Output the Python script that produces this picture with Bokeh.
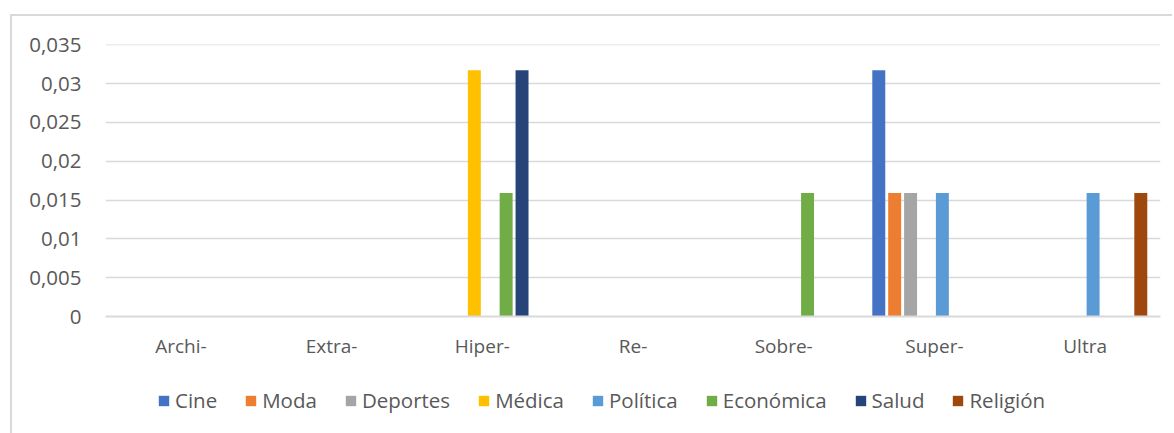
from bokeh.plotting import figure
from bokeh.layouts import column
from bokeh.models import (FactorRange, Range1d, FixedTicker, CustomJSTickFormatter,
                          Legend, LegendItem, ColumnDataSource)
from bokeh.transform import dodge
from bokeh.embed import file_html
from bokeh.resources import INLINE

categories = ["Archi-", "Extra-", "Hiper-", "Re-", "Sobre-", "Super-", "Ultra"]
series_names = ["Cine", "Moda", "Deportes", "Médica", "Política", "Económica", "Salud", "Religión"]
cine      = [0, 0, 0,      0, 0,      0.0317, 0]
moda      = [0, 0, 0,      0, 0,      0.0159, 0]
deportes  = [0, 0, 0,      0, 0,      0.0159, 0]
medica    = [0, 0, 0.0317, 0, 0,      0,      0]
politica  = [0, 0, 0,      0, 0,      0.0159, 0.0159]
economica = [0, 0, 0.0159, 0, 0.0159, 0,      0]
salud     = [0, 0, 0.0317, 0, 0,      0,      0]
religion  = [0, 0, 0,      0, 0,      0,      0.0159]
y_ticks = [0, 0.005, 0.01, 0.015, 0.02, 0.025, 0.03, 0.035]

series_values = [cine, moda, deportes, medica, politica, economica, salud, religion]
colors = ["#4472C4", "#ED7D31", "#A5A5A5", "#FFC000", "#5B9BD5", "#70AD47", "#264478", "#9E480E"]

FONT = "Open Sans"
TXT = "#595959"
GRID = "#d9d9d9"

data = {"cat": categories}
for name, vals in zip(series_names, series_values):
    data[name] = vals
src = ColumnDataSource(data)

# ---- main chart ----
p = figure(width=1160, height=357, output_backend="svg", toolbar_location=None,
           x_range=FactorRange(*categories, range_padding=0),
           y_range=Range1d(0, 0.03503),
           min_border_left=93, min_border_right=12, min_border_top=28, min_border_bottom=57)
p.outline_line_color = None
p.background_fill_color = "white"
p.border_fill_color = "white"

slot = 0.1055
for j, (name, col) in enumerate(zip(series_names, colors)):
    p.vbar(x=dodge("cat", (j - 3.5) * slot, range=p.x_range), top=name, width=0.086,
           source=src, fill_color=col, line_color=None)

p.xgrid.grid_line_color = None
p.ygrid.grid_line_color = GRID
p.ygrid.grid_line_width = 1.5
p.ygrid.ticker = FixedTicker(ticks=y_ticks)

p.yaxis.ticker = FixedTicker(ticks=y_ticks)
p.yaxis.formatter = CustomJSTickFormatter(
    code="return (Math.round(tick*1000)/1000).toString().replace('.', ',');")
p.yaxis.axis_line_color = None
p.yaxis.major_tick_line_color = None
p.yaxis.minor_tick_line_color = None
p.yaxis.major_label_standoff = 18
p.yaxis.major_label_text_font = FONT
p.yaxis.major_label_text_font_size = "20.5px"
p.yaxis.major_label_text_color = TXT

p.xaxis.axis_line_color = GRID
p.xaxis.axis_line_width = 2
p.xaxis.major_tick_line_color = None
p.xaxis.minor_tick_line_color = None
p.xaxis.major_label_standoff = 10
p.xaxis.major_label_text_font = FONT
p.xaxis.major_label_text_font_size = "19px"
p.xaxis.major_label_text_color = TXT

# ---- legend strip ----
lg = figure(width=1160, height=60, output_backend="svg", toolbar_location=None,
            x_range=FactorRange(*categories), y_range=Range1d(10, 11),
            x_axis_location=None, y_axis_location=None,
            min_border=0, min_border_left=0, min_border_right=0,
            min_border_top=0, min_border_bottom=0)
lg.grid.visible = False
lg.outline_line_color = None
lg.background_fill_color = "white"
lg.border_fill_color = "white"

items = []
for name, col in zip(series_names, colors):
    # swatch renderers: bars lie below the strip's visible range, only legend swatches show
    r = lg.vbar(x="cat", top=name, width=0.5, source=src, fill_color=col, line_color=None)
    items.append(LegendItem(label=name, renderers=[r]))

legend = Legend(items=items, orientation="horizontal", location=(52, 19))
legend.label_text_font = FONT
legend.label_text_font_size = "20.5px"
legend.label_text_color = TXT
legend.glyph_width = 13
legend.glyph_height = 13
legend.label_standoff = 5
legend.spacing = 27
legend.padding = 0
legend.margin = 0
legend.border_line_color = None
legend.background_fill_alpha = 0
legend.click_policy = "none"
lg.add_layout(legend, "center")

layout = column(p, lg, spacing=0)
layout.styles = {"margin-left": "10px", "margin-top": "14px",
                 "border-left": "2px solid #d9d9d9", "border-top": "2px solid #d9d9d9"}

open("out.html", "w").write(file_html(layout, INLINE))
